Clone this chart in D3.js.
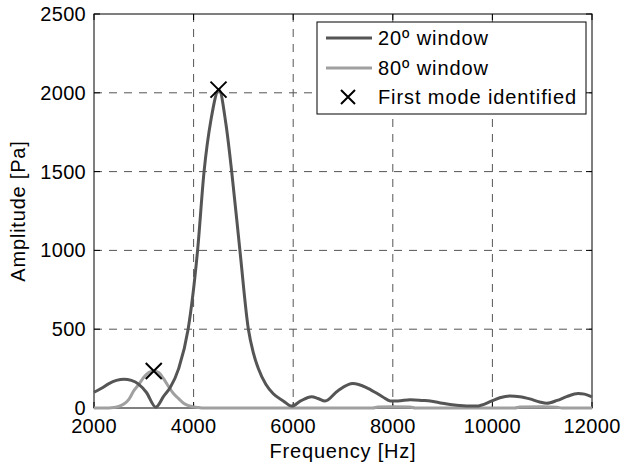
<!DOCTYPE html>
<html><head><meta charset="utf-8">
<script src="https://cdn.jsdelivr.net/npm/d3@7"></script>
<style>body{margin:0;background:#fff;} svg{display:block;} text{font-family:"Liberation Sans",Arial,Helvetica,sans-serif;}</style>
</head><body>
<svg id="c" width="626" height="468"></svg>
<script>
const freq20 = [2000,2150,2300,2450,2600,2750,2900,3050,3240,3400,3530,3700,3890,4080,4210,4350,4510,4650,4765,4930,5100,5200,5300,5450,5600,5800,5970,6150,6370,6500,6640,6900,7200,7500,7800,7950,8100,8350,8600,8750,9000,9280,9680,9990,10150,10350,10550,10750,10950,11090,11300,11490,11720,11850,12000];
const amp20  = [100,125,155,175,183,175,150,100,5,75,130,250,500,1000,1500,1830,2020,1800,1500,1000,500,350,250,150,90,45,12,45,72,60,44,110,155,125,70,45,45,52,48,45,30,18,12,45,65,76,72,58,38,30,48,72,92,88,70];
const freq80 = [2000,2300,2400,2500,2600,2700,2800,2900,3000,3100,3200,3300,3400,3500,3600,3700,3800,3900,4000,4100,4200,7600,7700,8000,8350,8450,10450,10550,11000,11300,11400,12000];
const amp80  = [0,0,3,10,25,55,110,150,195,225,235,225,185,135,90,60,30,15,7,3,0,0,6,8,6,0,0,6,8,5,0,0];
const modeFreq = [4500,3200];
const modeAmp  = [2020,235];
const xTicks = [2000,4000,6000,8000,10000,12000];
const yTicks = [0,500,1000,1500,2000,2500];
const legendLabels = ["20º window","80º window","First mode identified"];

const svg = d3.select("#c");
const L=94,R=592,T=14,B=408;
const x = d3.scaleLinear().domain([2000,12000]).range([L,R]);
const y = d3.scaleLinear().domain([0,2500]).range([B,T]);
const FS = 20;

// grid
const grid = svg.append("g").attr("stroke","#555").attr("stroke-width",1).attr("stroke-dasharray","8,7");
xTicks.slice(1,-1).forEach(t=>grid.append("line").attr("x1",x(t)).attr("x2",x(t)).attr("y1",T).attr("y2",B));
yTicks.slice(1,-1).forEach(t=>grid.append("line").attr("x1",L).attr("x2",R).attr("y1",y(t)).attr("y2",y(t)));

// axes box
svg.append("rect").attr("x",L).attr("y",T).attr("width",R-L).attr("height",B-T).attr("fill","none").attr("stroke","#000").attr("stroke-width",1);
const tk = svg.append("g").attr("stroke","#000").attr("stroke-width",1);
xTicks.forEach(t=>{tk.append("line").attr("x1",x(t)).attr("x2",x(t)).attr("y1",B).attr("y2",B-6);
  tk.append("line").attr("x1",x(t)).attr("x2",x(t)).attr("y1",T).attr("y2",T+6);});
yTicks.forEach(t=>{tk.append("line").attr("x1",L).attr("x2",L+6).attr("y1",y(t)).attr("y2",y(t));
  tk.append("line").attr("x1",R).attr("x2",R-6).attr("y1",y(t)).attr("y2",y(t));});

// tick labels
xTicks.forEach(t=>svg.append("text").attr("x",x(t)).attr("y",433).attr("text-anchor","middle").attr("font-size",FS).attr("letter-spacing","0.3px").text(t));
yTicks.forEach(t=>svg.append("text").attr("x",L-8).attr("y",y(t)).attr("dy","0.35em").attr("text-anchor","end").attr("font-size",FS).attr("letter-spacing","0.3px").text(t));
svg.append("text").attr("x",(L+R)/2).attr("y",458).attr("text-anchor","middle").attr("font-size",FS).attr("letter-spacing","0.8px").text("Frequency [Hz]");
svg.append("text").attr("transform",`translate(25,${(T+B)/2}) rotate(-90)`).attr("text-anchor","middle").attr("font-size",FS).attr("letter-spacing","0.8px").text("Amplitude [Pa]");

// curves
const line = d3.line().x(d=>x(d[0])).y(d=>y(d[1])).curve(d3.curveMonotoneX);
const c1 = "#555555", c2 = "#a0a0a0";
svg.append("path").datum(d3.zip(freq80,amp80)).attr("d",line).attr("fill","none").attr("stroke",c2).attr("stroke-width",3).attr("stroke-linejoin","round");
svg.append("path").datum(d3.zip(freq20,amp20)).attr("d",line).attr("fill","none").attr("stroke",c1).attr("stroke-width",3).attr("stroke-linejoin","round");

function cross(g,cx,cy,h){
  g.append("path").attr("d",`M${cx-h},${cy-h}L${cx+h},${cy+h}M${cx-h},${cy+h}L${cx+h},${cy-h}`).attr("stroke","#000").attr("stroke-width",2).attr("fill","none");
}
d3.zip(modeFreq,modeAmp).forEach(d=>cross(svg,x(d[0]),y(d[1]),8));

// legend
const lg = svg.append("g");
lg.append("rect").attr("x",317).attr("y",22).attr("width",269).attr("height",92).attr("fill","#fff").attr("stroke","#000").attr("stroke-width",1);
const rows=[38,68,97];
lg.append("line").attr("x1",326).attr("x2",372).attr("y1",rows[0]).attr("y2",rows[0]).attr("stroke",c1).attr("stroke-width",3);
lg.append("line").attr("x1",326).attr("x2",372).attr("y1",rows[1]).attr("y2",rows[1]).attr("stroke",c2).attr("stroke-width",3);
cross(lg,348,rows[2],7);
legendLabels.forEach((s,i)=>lg.append("text").attr("x",378).attr("y",rows[i]).attr("dy","0.35em").attr("font-size",FS).attr("letter-spacing","0.9px").text(s));
</script>
</body></html>
